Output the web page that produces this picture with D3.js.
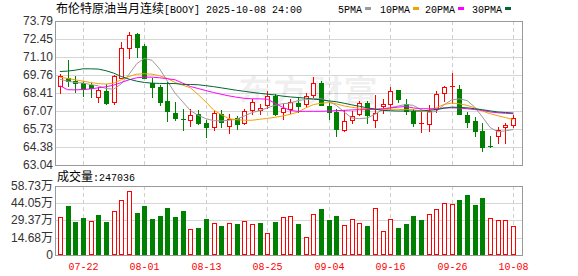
<!DOCTYPE html>
<html>
<head>
<meta charset="utf-8">
<script src="https://cdn.jsdelivr.net/npm/d3@7"></script>
<style>
  body { margin: 0; background: #fff; }
</style>
</head>
<body>
<div id="chart"></div>
<script>
// trading days shown
const dates = [
  "07-17", "07-18", "07-21", "07-22", "07-23", "07-24", "07-25", "07-28", "07-29", "07-30",
  "07-31", "08-01", "08-04", "08-05", "08-06", "08-07", "08-08", "08-11", "08-12", "08-13",
  "08-14", "08-15", "08-18", "08-19", "08-20", "08-21", "08-22", "08-25", "08-26", "08-27",
  "08-28", "08-29", "09-01", "09-02", "09-03", "09-04", "09-05", "09-08", "09-09", "09-10",
  "09-11", "09-12", "09-15", "09-16", "09-17", "09-18", "09-19", "09-22", "09-23", "09-24",
  "09-25", "09-26", "09-29", "09-30", "10-01", "10-02", "10-03", "10-06", "10-07", "10-08"
];

const open = [
  68.91, 69.57, 69.33, 69.13, 69.03, 68.10, 68.59, 67.78, 69.57, 71.79,
  72.84, 71.91, 69.16, 68.89, 67.85, 66.92, 66.45, 66.38, 66.87, 66.21,
  65.89, 66.87, 65.96, 66.57, 66.21, 67.17, 67.17, 67.49, 68.22, 66.99,
  67.24, 67.66, 67.56, 68.30, 69.13, 67.44, 66.99, 65.64, 66.38, 66.82,
  67.68, 66.38, 67.41, 67.56, 68.64, 67.61, 67.07, 66.08, 66.13, 67.24,
  68.39, 68.84, 68.71, 66.80, 66.30, 65.57, 64.48, 65.18, 65.84, 66.01
];
const high = [
  69.82, 70.85, 69.70, 69.28, 69.13, 68.84, 69.08, 69.76, 72.23, 72.97,
  72.90, 72.08, 69.57, 69.03, 69.20, 67.73, 67.24, 67.19, 67.17, 66.38,
  67.17, 67.17, 66.87, 66.67, 67.24, 67.98, 67.61, 68.54, 68.35, 67.61,
  67.98, 68.10, 68.39, 69.62, 69.28, 67.73, 67.24, 67.17, 67.07, 67.80,
  67.80, 68.27, 67.93, 68.84, 68.64, 67.98, 67.24, 66.99, 67.49, 68.59,
  68.96, 69.94, 69.01, 66.99, 66.62, 66.18, 65.20, 65.84, 66.18, 66.75
];
const low = [
  68.39, 68.96, 68.47, 68.22, 68.10, 67.78, 67.61, 67.61, 69.50, 71.05,
  71.10, 69.50, 68.10, 67.49, 66.33, 66.38, 65.64, 65.96, 66.08, 65.15,
  65.64, 65.84, 65.45, 65.71, 66.13, 66.87, 66.82, 67.31, 66.80, 66.50,
  66.92, 66.99, 67.36, 68.15, 67.49, 66.45, 65.20, 65.59, 66.21, 66.75,
  66.21, 65.89, 66.92, 67.24, 67.73, 66.82, 65.96, 65.47, 65.59, 66.99,
  67.80, 67.68, 66.82, 65.84, 65.20, 64.09, 64.36, 64.66, 64.71, 65.84
];
const close = [
  69.70, 69.33, 69.16, 68.71, 68.79, 68.64, 67.68, 69.65, 71.79, 72.77,
  71.84, 69.57, 68.84, 67.73, 67.07, 66.55, 66.43, 66.80, 66.21, 65.84,
  66.92, 66.26, 66.50, 66.13, 67.07, 67.73, 67.31, 68.22, 66.87, 67.31,
  67.73, 67.41, 68.22, 69.13, 67.49, 66.99, 65.76, 66.33, 66.67, 67.66,
  66.75, 66.92, 67.56, 68.54, 67.98, 67.07, 66.18, 66.16, 67.07, 68.35,
  68.84, 68.91, 66.87, 66.26, 65.59, 64.42, 64.45, 65.62, 66.06, 66.57
];

const volume = [
  320900, 417100, 283700, 314900, 289400, 340500, 283700, 374500, 465300, 542000,
  357500, 417100, 306400, 332000, 400100, 323500, 377400, 221300, 232700, 306400,
  272400, 246800, 272400, 263900, 289400, 263900, 272400, 187300, 280900, 320900,
  332000, 263900, 153200, 349000, 391600, 297900, 332000, 255400, 303900, 272400,
  246800, 397500, 204300, 306400, 229800, 263900, 332000, 297900, 349000, 391600,
  442600, 434100, 468200, 510700, 425600, 485200, 314900, 297900, 297900, 247036
];

const ma5 = [
  69.45, 69.30, 69.20, 69.16, 69.05, 68.95, 68.75, 68.70, 69.10, 69.80,
  70.60, 71.00, 70.85, 70.20, 69.30, 68.40, 67.75, 67.10, 66.75, 66.50,
  66.35, 66.33, 66.38, 66.45, 66.70, 66.95, 67.10, 67.30, 67.50, 67.62,
  67.66, 67.85, 67.93, 67.98, 67.98, 67.80, 67.49, 67.00, 66.55, 66.50,
  66.55, 66.82, 67.17, 67.31, 67.44, 67.56, 67.49, 67.17, 66.97, 67.04,
  67.53, 67.90, 67.98, 67.85, 67.36, 66.62, 65.84, 65.52, 65.59, 65.69
];
const ma10 = [
  69.60, 69.50, 69.40, 69.30, 69.20, 69.12, 69.08, 69.15, 69.40, 69.65,
  69.82, 69.85, 69.82, 69.70, 69.50, 69.20, 69.00, 68.80, 68.30, 67.75,
  67.15, 66.80, 66.50, 66.42, 66.38, 66.38, 66.45, 66.52, 66.60, 66.70,
  66.82, 67.00, 67.30, 67.55, 67.65, 67.70, 67.60, 67.45, 67.35, 67.28,
  67.24, 67.20, 67.15, 67.20, 67.20, 67.17, 67.17, 67.07, 67.12, 67.31,
  67.56, 67.66, 67.61, 67.49, 67.31, 67.07, 66.87, 66.72, 66.58, 66.43
];
const ma20 = [
  68.96, 68.66, 68.65, 68.67, 68.72, 68.80, 68.88, 69.00, 69.20, 69.40,
  69.55, 69.60, 69.60, 69.55, 69.48, 69.40, 69.15, 68.90, 68.75, 68.60,
  68.45, 68.32, 68.20, 68.10, 68.02, 67.98, 67.98, 67.95, 67.65, 67.35,
  67.12, 67.04, 67.05, 67.05, 67.05, 67.07, 67.10, 67.12, 67.15, 67.17,
  67.17, 67.20, 67.25, 67.30, 67.36, 67.41, 67.30, 67.24, 67.24, 67.24,
  67.30, 67.31, 67.29, 67.24, 67.18, 67.12, 67.00, 66.94, 66.90, 66.87
];
const ma30 = [
  70.02, 70.05, 70.12, 70.22, 70.22, 70.20, 70.08, 69.90, 69.65, 69.45,
  69.30, 69.20, 69.15, 69.13, 69.12, 69.12, 69.06, 69.05, 69.03, 68.96,
  68.89, 68.80, 68.71, 68.62, 68.54, 68.46, 68.39, 68.33, 68.27, 68.18,
  68.12, 68.08, 68.03, 67.96, 67.90, 67.83, 67.76, 67.65, 67.53, 67.42,
  67.31, 67.22, 67.12, 67.09, 67.07, 67.07, 67.07, 67.07, 67.12, 67.17,
  67.28, 67.36, 67.34, 67.31, 67.24, 67.17, 67.08, 67.00, 66.96, 66.92
];

const priceTicks = [63.04, 64.38, 65.73, 67.07, 68.41, 69.76, 71.10, 72.45, 73.79];
const volTicks = [0, 146800, 293700, 440500, 587300];
const volTickLabels = ["0", "14.68万", "29.37万", "44.05万", "58.73万"];
const dateTicks = ["07-22", "08-01", "08-13", "08-25", "09-04", "09-16", "09-26", "10-08"];

const maNames = ["5PMA", "10PMA", "20PMA", "30PMA"];
const maColors = ["#9a9a9a", "#f2a200", "#ff00ff", "#006633"];

const RED = "#ff0000", GREEN = "#008000";
const box = { left: 55, right: 522, top: 21, bottom: 165, volTop: 186, volBottom: 255 };

const svg = d3
  .select("#chart")
  .append("svg")
  .attr("width", 578)
  .attr("height", 276)
  .style("display", "block");

const x = d3.scaleBand().domain(dates).range([56, 517]);
const cx = (d) => Math.round(x(d) + x.bandwidth() / 2);

const y = d3.scaleLinear().domain([63.04, 73.79]).range([box.bottom, box.top]);
const yVol = d3.scaleLinear().domain([0, 587300]).range([box.volBottom, box.volTop]);

// grid
svg
  .append("g")
  .selectAll("line")
  .data(priceTicks)
  .join("line")
  .attr("x1", box.left)
  .attr("x2", box.right)
  .attr("y1", (d) => Math.round(y(d)) + 0.5)
  .attr("y2", (d) => Math.round(y(d)) + 0.5)
  .attr("stroke", "#d6d6d6");

svg
  .append("g")
  .selectAll("line")
  .data(volTicks)
  .join("line")
  .attr("x1", box.left)
  .attr("x2", box.right)
  .attr("y1", (d) => Math.round(yVol(d)) + 0.5)
  .attr("y2", (d) => Math.round(yVol(d)) + 0.5)
  .attr("stroke", "#d6d6d6");

const vgrid = svg.append("g").attr("stroke", "#cfcfcf").attr("stroke-dasharray", "4,3");
dateTicks.forEach((d) => {
  vgrid.append("line")
    .attr("x1", cx(d) + 0.5).attr("x2", cx(d) + 0.5)
    .attr("y1", box.top).attr("y2", box.bottom);
  vgrid.append("line")
    .attr("x1", cx(d) + 0.5).attr("x2", cx(d) + 0.5)
    .attr("y1", box.volTop).attr("y2", box.volBottom);
});

// watermark
svg
  .append("text")
  .attr("x", 238)
  .attr("y", 101)
  .attr("textLength", 140)
  .attr("lengthAdjust", "spacingAndGlyphs")
  .attr("font-family", "Noto Sans CJK SC")
  .attr("font-weight", "bold")
  .attr("font-size", 30)
  .attr("fill", "#000")
  .attr("fill-opacity", 0.06)
  .text("东方财富");

// candles
const candles = dates.map((d, i) => ({
  date: d, o: open[i], h: high[i], l: low[i], c: close[i],
}));

const cg = svg.append("g");
candles.forEach((k) => {
  const up = k.c >= k.o;
  const col = up ? RED : GREEN;
  const px = cx(k.date);
  const top = Math.round(y(Math.max(k.o, k.c)));
  const bot = Math.round(y(Math.min(k.o, k.c)));

  cg.append("line")
    .attr("x1", px + 0.5).attr("x2", px + 0.5)
    .attr("y1", Math.round(y(k.h))).attr("y2", Math.round(y(k.l)) + 1)
    .attr("stroke", col);

  if (bot - top < 2) {
    cg.append("line")
      .attr("x1", px - 2).attr("x2", px + 3)
      .attr("y1", top + 0.5).attr("y2", top + 0.5)
      .attr("stroke", col);
  } else if (up) {
    cg.append("rect")
      .attr("x", px - 1.5).attr("y", top + 0.5)
      .attr("width", 4).attr("height", bot - top)
      .attr("fill", "#fff").attr("stroke", RED);
  } else {
    cg.append("rect")
      .attr("x", px - 2).attr("y", top)
      .attr("width", 5).attr("height", bot - top + 1)
      .attr("fill", GREEN);
  }
});

// moving averages
const maLine = d3
  .line()
  .x((d, i) => x(dates[i]) + x.bandwidth() / 2)
  .y((d) => y(d));

[ma5, ma10, ma20, ma30].forEach((arr, j) => {
  svg.append("path")
    .datum(arr)
    .attr("d", maLine)
    .attr("fill", "none")
    .attr("stroke", maColors[j])
    .attr("stroke-width", 1);
});

// volume bars, coloured against the previous close
const vg = svg.append("g");
volume.forEach((v, i) => {
  const up = i === 0 ? close[i] >= open[i] : close[i] >= close[i - 1];
  const px = cx(dates[i]);
  const top = Math.round(yVol(v));
  if (up) {
    vg.append("rect")
      .attr("x", px - 1.5).attr("y", top + 0.5)
      .attr("width", 4).attr("height", box.volBottom - top - 1)
      .attr("fill", "#fff").attr("stroke", RED);
  } else {
    vg.append("rect")
      .attr("x", px - 2).attr("y", top)
      .attr("width", 5).attr("height", box.volBottom - top)
      .attr("fill", GREEN);
  }
});

// frames
[[box.top, box.bottom], [box.volTop, box.volBottom]].forEach(([t, b]) => {
  svg.append("rect")
    .attr("x", box.left + 0.5).attr("y", t + 0.5)
    .attr("width", box.right - box.left).attr("height", b - t)
    .attr("fill", "none").attr("stroke", "#999");
});

// axis labels
svg
  .append("g")
  .selectAll("text")
  .data(priceTicks)
  .join("text")
  .attr("x", 53)
  .attr("y", (d) => Math.round(y(d)))
  .attr("dy", "0.36em")
  .attr("text-anchor", "end")
  .attr("font-family", "Liberation Sans, Arial, sans-serif")
  .attr("font-size", 12)
  .attr("fill", "#333")
  .text((d) => d.toFixed(2));

svg
  .append("g")
  .selectAll("text")
  .data(volTicks)
  .join("text")
  .attr("x", 53)
  .attr("y", (d) => Math.round(yVol(d)))
  .attr("dy", "0.36em")
  .attr("text-anchor", "end")
  .attr("font-family", "Liberation Sans, Noto Sans CJK SC, sans-serif")
  .attr("font-size", 12)
  .attr("fill", "#333")
  .text((d, i) => volTickLabels[i]);

svg
  .append("g")
  .selectAll("text")
  .data(dateTicks)
  .join("text")
  .attr("x", (d) => cx(d) + 0.5)
  .attr("y", 270)
  .attr("text-anchor", "middle")
  .attr("font-family", "Liberation Mono, monospace")
  .attr("font-size", 11.5)
  .attr("textLength", 30)
  .attr("lengthAdjust", "spacingAndGlyphs")
  .attr("fill", RED)
  .text((d) => d);

// title
svg.append("text")
  .attr("x", 56).attr("y", 13)
  .attr("font-family", "Noto Sans CJK SC")
  .attr("font-size", 12)
  .attr("fill", "#000")
  .text("布伦特原油当月连续");
svg.append("text")
  .attr("x", 164).attr("y", 13)
  .attr("font-family", "Liberation Mono, monospace")
  .attr("font-size", 11.5)
  .attr("textLength", 138)
  .attr("lengthAdjust", "spacingAndGlyphs")
  .attr("fill", "#000")
  .text("[BOOY] 2025-10-08 24:00");

// legend
const legendX = [338, 380, 425, 472];
maNames.forEach((name, j) => {
  const w = name.length * 6;
  svg.append("text")
    .attr("x", legendX[j]).attr("y", 12.5)
    .attr("font-family", "Liberation Mono, monospace")
    .attr("font-size", 11)
    .attr("textLength", w)
    .attr("lengthAdjust", "spacingAndGlyphs")
    .attr("fill", "#000")
    .text(name);
  svg.append("rect")
    .attr("x", legendX[j] + w + 3).attr("y", 7)
    .attr("width", 6).attr("height", 3)
    .attr("fill", maColors[j]);
});

// volume title
svg.append("text")
  .attr("x", 57).attr("y", 181)
  .attr("font-family", "Noto Sans CJK SC")
  .attr("font-size", 12)
  .attr("fill", "#000")
  .text("成交量");
svg.append("text")
  .attr("x", 93).attr("y", 181)
  .attr("font-family", "Liberation Mono, monospace")
  .attr("font-size", 11.5)
  .attr("textLength", 42)
  .attr("lengthAdjust", "spacingAndGlyphs")
  .attr("fill", "#000")
  .text(":" + volume[volume.length - 1]);
</script>
</body>
</html>
